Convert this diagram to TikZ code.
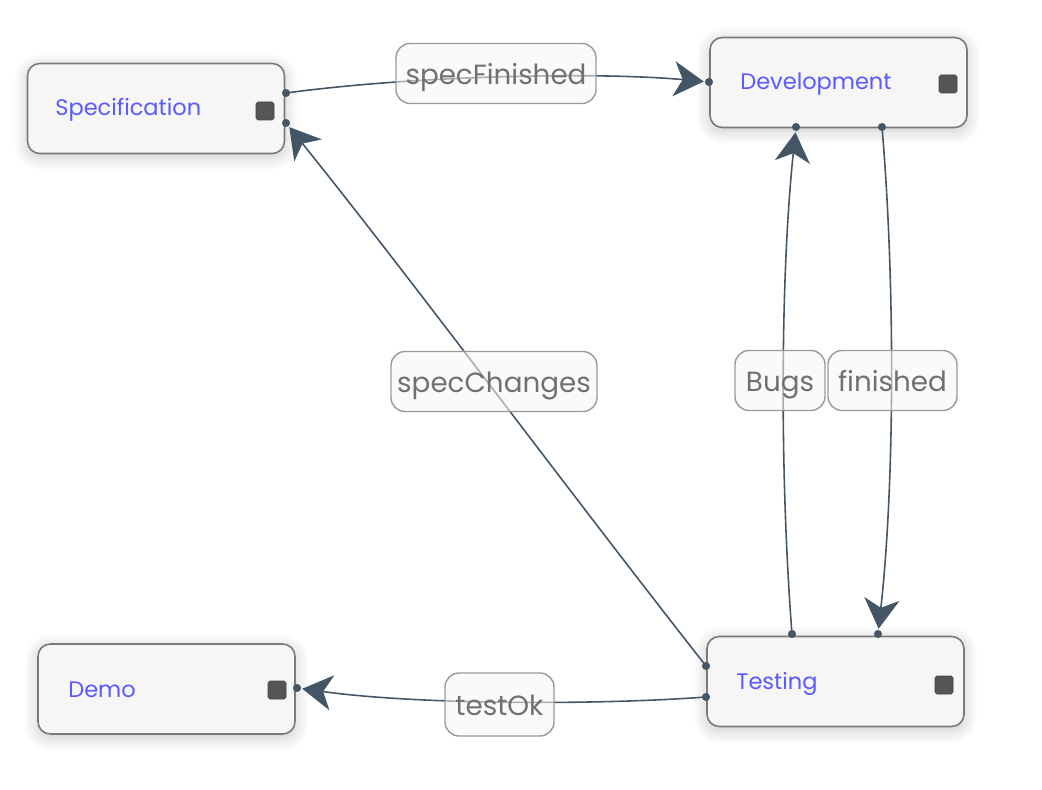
\documentclass[tikz,border=0pt]{standalone}
\usepackage{fontspec}
\setmainfont{Poppins}
\usetikzlibrary{arrows.meta,shadows.blur}
\definecolor{edgec}{HTML}{445566}
\definecolor{nodefill}{HTML}{F6F6F6}
\definecolor{nodeborder}{HTML}{7A7A7A}
\definecolor{nodetext}{HTML}{5A5AFF}
\definecolor{labeltext}{HTML}{707070}
\definecolor{labelborder}{HTML}{9A9A9A}
\definecolor{sq}{HTML}{555555}
\tikzset{
  state/.style={draw=nodeborder, line width=0.9pt, fill=nodefill, rounded corners=7pt,
    minimum width=257*0.02cm, minimum height=90*0.02cm, inner sep=0pt,
    blur shadow={shadow blur steps=10, shadow xshift=0pt, shadow yshift=-2pt,
      shadow blur radius=8pt, shadow opacity=22}},
  statetext/.style={anchor=west, text=nodetext, font=\fontsize{12.8}{14}\selectfont, inner sep=0pt, yshift=-1.5pt},
  sqbox/.style={fill=sq, draw=sq!80!black, line width=0.3pt, minimum size=18*0.02cm, inner sep=0pt, rounded corners=1pt},
  elabel/.style={draw=labelborder, line width=0.8pt, fill=nodefill, fill opacity=0.55, text opacity=1,
    rounded corners=8pt, text=labeltext, font=\fontsize{15.8}{17}\selectfont, inner sep=0pt,
    text height=12.4pt, text depth=0pt, minimum height=60*0.02cm},
  conn/.style={draw=edgec, line width=0.9pt, -{Stealth[length=17pt, width=20pt, inset=5pt]}, shorten >=3pt},
}
\begin{document}
\begin{tikzpicture}[x=0.02cm, y=-0.02cm]
\useasboundingbox (0,0) rectangle (1042,790);

% states
\node[state] (spec) at (156,108.5) {};
\node[state] (dev) at (838.5,82.5) {};
\node[state] (test) at (835.5,681.5) {};
\node[state] (demo) at (166.5,689) {};

\node[statetext] (spect) at (55,107) {Specification};
\node[statetext] (devt) at (740,81) {Development};
\node[statetext] (testt) at (736,681) {Testing};
\node[statetext] (demot) at (68,687) {Demo};

\node[sqbox] (specsq) at (265,111) {};
\node[sqbox] (devsq) at (948,84) {};
\node[sqbox] (testsq) at (944,685) {};
\node[sqbox] (demosq) at (277,690) {};

% ports
\coordinate (specout) at (286,93);
\coordinate (specin) at (286,123);
\coordinate (devin) at (709,82);
\coordinate (devbug) at (796,127);
\coordinate (devfin) at (882,127);
\coordinate (testbug) at (792,634);
\coordinate (testfin) at (878,634);
\coordinate (testchg) at (706,666);
\coordinate (testok) at (706,697);
\coordinate (demoin) at (297,688);

% connectors
\draw[conn] (specout) .. controls (420,75) and (600,72) .. (devin);
\draw[conn] (testchg) .. controls (560,480) and (420,290) .. (specin);
\draw[conn] (testbug) .. controls (780,480) and (780,280) .. (devbug);
\draw[conn] (devfin) .. controls (895,280) and (895,480) .. (testfin);
\draw[conn] (testok) .. controls (600,705) and (420,705) .. (demoin);

% port dots
\foreach \p in {specout,specin,devin,devbug,devfin,testbug,testfin,testchg,testok,demoin}
  \fill[edgec] (\p) circle (2.3pt);

% labels
\node[elabel, minimum width=200*0.02cm] (lspecfin) at (496,73.5) {specFinished};
\node[elabel, minimum width=206*0.02cm] (lspecchg) at (494,381.5) {specChanges};
\node[elabel, minimum width=90*0.02cm] (lbugs) at (780,380.5) {Bugs};
\node[elabel, minimum width=129*0.02cm] (lfin) at (892.5,380.5) {finished};
\node[elabel, minimum width=109*0.02cm, minimum height=63*0.02cm] (ltestok) at (499.5,704.5) {testOk};
\end{tikzpicture}
\end{document}
